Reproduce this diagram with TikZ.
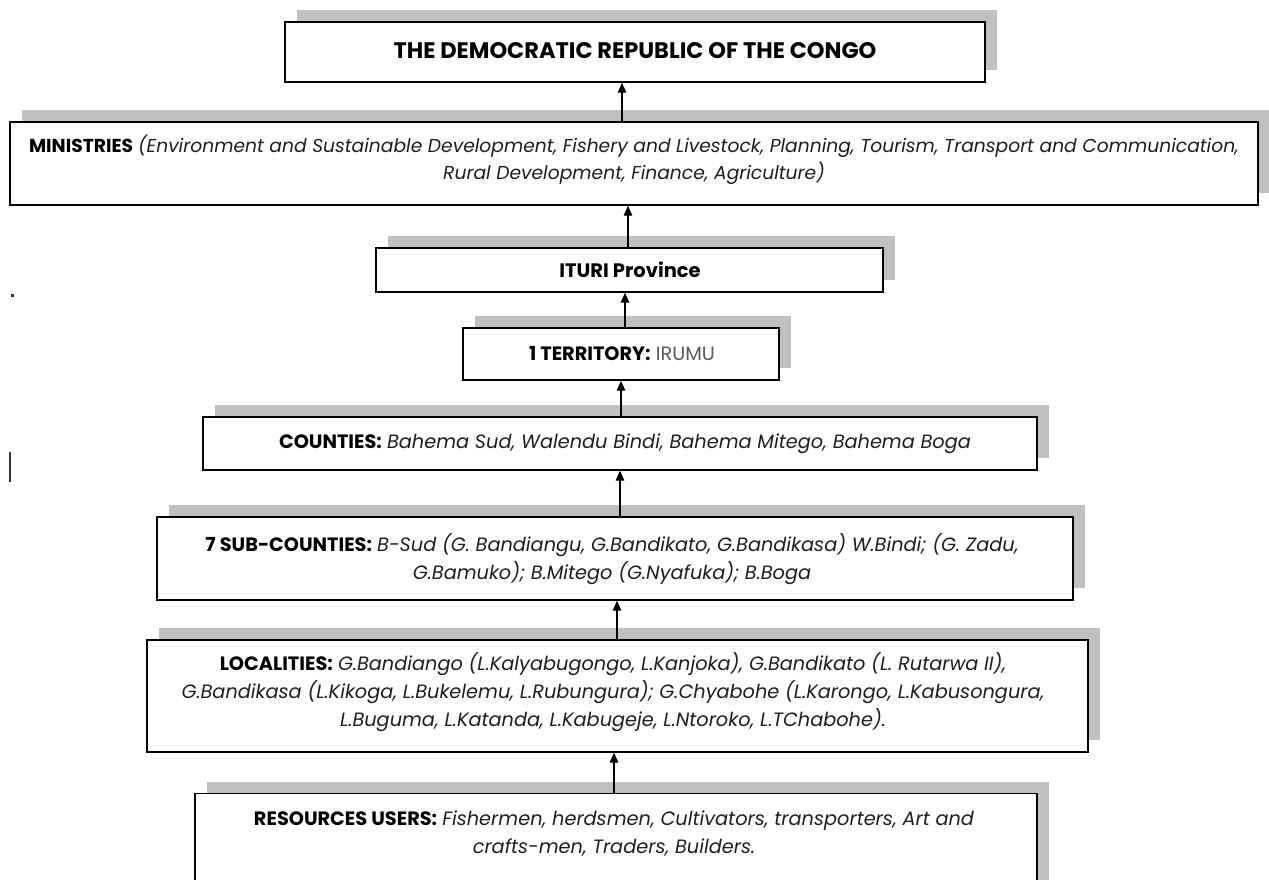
\documentclass[tikz,border=0pt]{standalone}
\usepackage{fontspec}
\setmainfont{Poppins}
\usetikzlibrary{shadows,arrows.meta}
\definecolor{shadowgray}{RGB}{192,192,192}
\definecolor{txtgray}{RGB}{30,30,30}
\definecolor{lightgray}{RGB}{90,90,90}
\begin{document}
\begin{tikzpicture}[x=1pt,y=-1pt,
  box/.style={draw=black, line width=1.4pt, fill=white, inner sep=0pt, align=center,
    general shadow={fill=shadowgray, shadow xshift=12pt, shadow yshift=12pt}},
  arr/.style={-{Triangle[length=10pt,width=8.5pt]}, line width=1.3pt},
  txt/.style={font=\fontsize{19.3}{28}\selectfont, text=txtgray, align=center, inner sep=0pt},
  hd/.style={font=\fontsize{19.5}{28}\selectfont\bfseries, text=black, inner sep=0pt},
]
\useasboundingbox (0,0) rectangle (1269,879);
\fill[white] (0,0) rectangle (1269,879);

% boxes
\node[box, minimum width=700pt, minimum height=60pt] (drc) at (635,52) {};
\node[hd, font=\fontsize{22.5}{28}\selectfont\bfseries] (drct) at (635,51) {THE DEMOCRATIC REPUBLIC OF THE CONGO};

\node[box, minimum width=1248pt, minimum height=83pt] (mini) at (634,163.5) {};
\node[txt, font=\fontsize{18.7}{27}\selectfont] (minit) at (634,159.5) {{\bfseries\color{black}MINISTRIES} \itshape (Environment and Sustainable Development, Fishery and Livestock, Planning, Tourism, Transport and Communication,\\ \itshape Rural Development, Finance, Agriculture)};

\node[box, minimum width=507pt, minimum height=44pt] (prov) at (629.5,270) {};
\node[hd] (provt) at (630,270) {ITURI Province};

\node[box, minimum width=316pt, minimum height=52pt] (terr) at (621,354) {};
\node[txt] (terrt) at (622,354) {{\bfseries\color{black}1 TERRITORY:} {\color{lightgray}IRUMU}};

\node[box, minimum width=834pt, minimum height=53pt] (coun) at (620,443.5) {};
\node[txt] (count) at (625,444) {{\bfseries\color{black}COUNTIES:} \itshape Bahema Sud, Walendu Bindi, Bahema Mitego, Bahema Boga};

\node[box, minimum width=916pt, minimum height=83pt] (sub) at (615,558.5) {};
\node[txt] (subt) at (612,559) {{\bfseries\color{black}7 SUB-COUNTIES:} \itshape B-Sud (G. Bandiangu, G.Bandikato, G.Bandikasa) W.Bindi; (G. Zadu,\\ \itshape G.Bamuko); B.Mitego (G.Nyafuka); B.Boga};

\node[box, minimum width=941pt, minimum height=112pt] (loc) at (617.5,696) {};
\node[txt] (loct) at (613,692) {{\bfseries\color{black}LOCALITIES:} \itshape G.Bandiango (L.Kalyabugongo, L.Kanjoka), G.Bandikato (L. Rutarwa II),\\ \itshape G.Bandikasa (L.Kikoga, L.Bukelemu, L.Rubungura); G.Chyabohe (L.Karongo, L.Kabusongura,\\ \itshape L.Buguma, L.Katanda, L.Kabugeje, L.Ntoroko, L.TChabohe).};

\node[box, minimum width=842pt, minimum height=110pt, anchor=north] (users) at (616,793) {};
\node[txt] (userst) at (614,834) {{\bfseries\color{black}RESOURCES USERS:} \itshape Fishermen, herdsmen, Cultivators, transporters, Art and\\ \itshape crafts-men, Traders, Builders.};

% arrows
\draw[arr] (mini.north -| 622,0) -- (drc.south -| 622,0);
\draw[arr] (prov.north -| 628,0) -- (mini.south -| 628,0);
\draw[arr] (terr.north -| 625,0) -- (prov.south -| 625,0);
\draw[arr] (coun.north -| 621,0) -- (terr.south -| 621,0);
\draw[arr] (sub.north -| 620,0) -- (coun.south -| 620,0);
\draw[arr] (loc.north -| 617,0) -- (sub.south -| 617,0);
\draw[arr] (users.north -| 614,0) -- (loc.south -| 614,0);

% stray marks
\fill[black!80] (10.5,293.5) rectangle (13.5,296.5);
\fill[black!80] (9,452) rectangle (11,482);
\end{tikzpicture}
\end{document}
